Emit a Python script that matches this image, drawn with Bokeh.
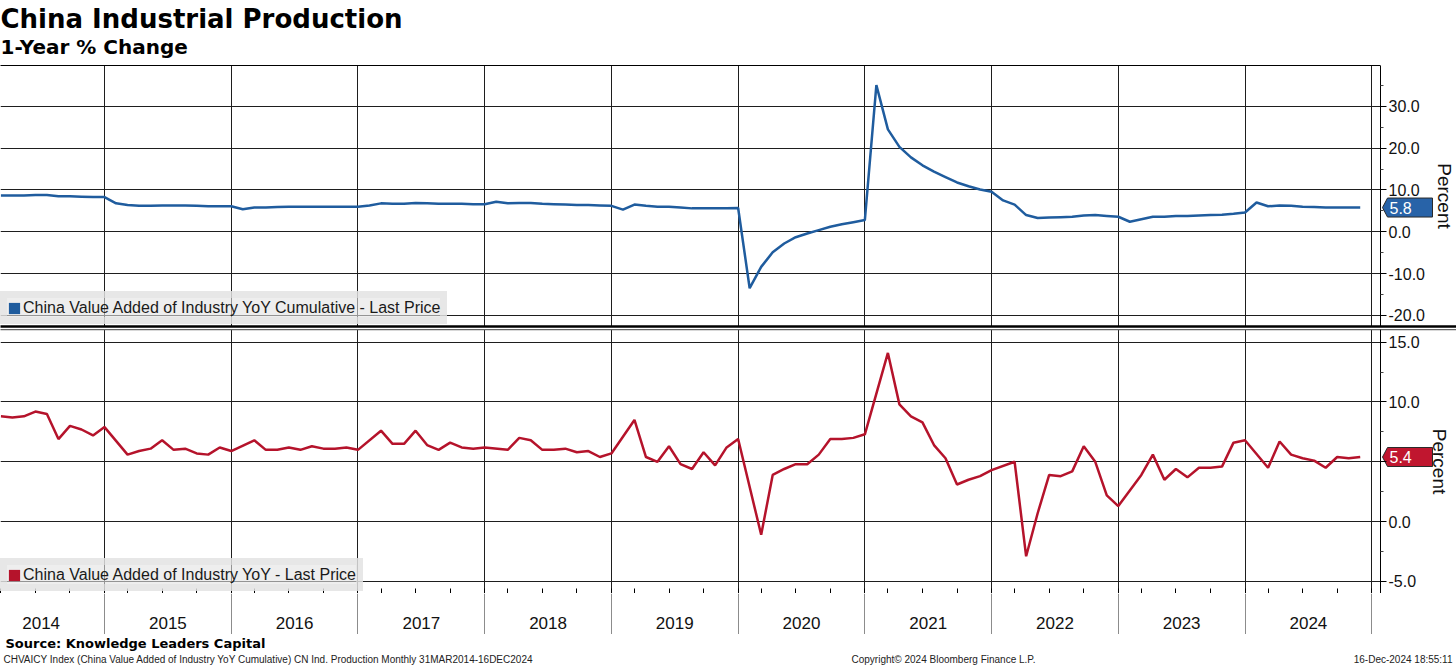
from bokeh.plotting import figure
from bokeh.models import (Range1d, FixedTicker, LinearAxis, Legend, LegendItem,
                          CustomJSTickFormatter)
from bokeh.layouts import column
from bokeh.embed import file_html
from bokeh.resources import INLINE
from bokeh.core.properties import value

# ---------------- data ----------------
# Observation slots: Bloomberg monthly series, Feb..Dec each year (Jan never published)
FIRST_PERIOD = "2014-03"
LAST_PERIOD = "2024-11"
YEARS = [2014, 2015, 2016, 2017, 2018, 2019, 2020, 2021, 2022, 2023, 2024]
MONTHS_IN_SERIES = [2, 3, 4, 5, 6, 7, 8, 9, 10, 11, 12]

# China Value Added of Industry YoY Cumulative (YTD), %
CUMULATIVE_YOY = [
    8.7, 8.7, 8.7, 8.8, 8.8, 8.5, 8.5, 8.4, 8.3, 8.3,            # 2014 Mar-Dec
    6.8, 6.4, 6.2, 6.2, 6.3, 6.3, 6.3, 6.2, 6.1, 6.1, 6.1,       # 2015 Feb-Dec
    5.4, 5.8, 5.8, 5.9, 6.0, 6.0, 6.0, 6.0, 6.0, 6.0, 6.0,       # 2016
    6.3, 6.8, 6.7, 6.7, 6.9, 6.8, 6.7, 6.7, 6.7, 6.6, 6.6,       # 2017
    7.2, 6.8, 6.9, 6.9, 6.7, 6.6, 6.5, 6.4, 6.4, 6.3, 6.2,       # 2018
    5.3, 6.5, 6.2, 6.0, 6.0, 5.8, 5.6, 5.6, 5.6, 5.6, 5.7,       # 2019
    -13.5, -8.4, -4.9, -2.8, -1.3, -0.4, 0.4, 1.2, 1.8, 2.3, 2.8,  # 2020
    35.1, 24.5, 20.3, 17.8, 15.9, 14.4, 13.1, 11.8, 10.9, 10.1, 9.6,  # 2021
    7.5, 6.5, 4.0, 3.3, 3.4, 3.5, 3.6, 3.9, 4.0, 3.8, 3.6,       # 2022
    2.4, 3.0, 3.6, 3.6, 3.8, 3.8, 3.9, 4.0, 4.1, 4.3, 4.6,       # 2023
    7.0, 6.1, 6.3, 6.2, 6.0, 5.9, 5.8, 5.8, 5.8, 5.8,            # 2024 Feb-Nov
]

# China Value Added of Industry YoY (single month), %; no Feb print (None)
MONTHLY_YOY = [
    8.8, 8.7, 8.8, 9.2, 9.0, 6.9, 8.0, 7.7, 7.2, 7.9,            # 2014 Mar-Dec
    None, 5.6, 5.9, 6.1, 6.8, 6.0, 6.1, 5.7, 5.6, 6.2, 5.9,      # 2015
    None, 6.8, 6.0, 6.0, 6.2, 6.0, 6.3, 6.1, 6.1, 6.2, 6.0,      # 2016
    None, 7.6, 6.5, 6.5, 7.6, 6.4, 6.0, 6.6, 6.2, 6.1, 6.2,      # 2017
    None, 6.0, 7.0, 6.8, 6.0, 6.0, 6.1, 5.8, 5.9, 5.4, 5.7,      # 2018
    None, 8.5, 5.4, 5.0, 6.3, 4.8, 4.4, 5.8, 4.7, 6.2, 6.9,      # 2019
    None, -1.1, 3.9, 4.4, 4.8, 4.8, 5.6, 6.9, 6.9, 7.0, 7.3,     # 2020
    None, 14.1, 9.8, 8.8, 8.3, 6.4, 5.3, 3.1, 3.5, 3.8, 4.3,     # 2021
    None, 5.0, -2.9, 0.7, 3.9, 3.8, 4.2, 6.3, 5.0, 2.2, 1.3,     # 2022
    None, 3.9, 5.6, 3.5, 4.4, 3.7, 4.5, 4.5, 4.6, 6.6, 6.8,      # 2023
    None, 4.5, 6.7, 5.6, 5.3, 5.1, 4.5, 5.4, 5.3, 5.4,           # 2024 Feb-Nov
]

TOP_TICKS = [-20, -10, 0, 10, 20, 30]
TOP_MINOR = [-15, -5, 5, 15, 25, 35]
BOT_TICKS = [-5, 0, 5, 10, 15]
BOT_MINOR = [-2.5, 2.5, 7.5, 12.5]

TITLE = "China Industrial Production"
SUBTITLE = "1-Year % Change"
SERIES1 = "China Value Added of Industry YoY Cumulative - Last Price"
SERIES2 = "China Value Added of Industry YoY - Last Price"
SOURCE = "Source: Knowledge Leaders Capital"
FOOT_LEFT = "CHVAICY Index (China Value Added of Industry YoY Cumulative) CN Ind. Production  Monthly 31MAR2014-16DEC2024"
FOOT_MID = "Copyright\u00a9 2024 Bloomberg Finance L.P."
FOOT_RIGHT = "16-Dec-2024 18:55:11"

# ---------------- derived positions ----------------
PERIODS = []
for y in YEARS:
    for m in MONTHS_IN_SERIES:
        p = f"{y}-{m:02d}"
        if FIRST_PERIOD <= p <= LAST_PERIOD:
            PERIODS.append(p)
X = list(range(len(PERIODS)))
red_x = [i for i, v in zip(X, MONTHLY_YOY) if v is not None]
red_y = [v for v in MONTHLY_YOY if v is not None]
DEC_IDX = [i for i, p in enumerate(PERIODS) if p.endswith("-12")]
BOUNDARIES = DEC_IDX + [DEC_IDX[-1] + len(MONTHS_IN_SERIES)]
YEAR_CENTERS = [b - len(MONTHS_IN_SERIES) / 2 for b in BOUNDARIES]
QUARTERS = [i for i, p in enumerate(PERIODS) if p[-2:] in ("03", "06", "09", "12")] + [BOUNDARIES[-1]]

# ---------------- style / geometry ----------------
BLUE = "#1f5c9e"
BLUE_TAG = "#2863a8"
RED = "#b5132b"
RED_TAG = "#c0162f"
GRID = "#1e1e1e"
LEG_BG = "#e2e2e2"
FONT = "Liberation Sans"
BFONT = "DejaVu Sans"
W = 1456          # full canvas width
AXIS_PX = 1380    # x pixel of the right value axis
X_START, X_END = -0.03, 119.76
XR_END = X_START + (X_END - X_START) * W / AXIS_PX
Y1 = (-22.66, 39.78)
Y2 = (-6.01, 16.06)
H1, H2 = 261, 264
NAN = float("nan")

x_range = Range1d(X_START, XR_END)


def base_panel(yr, fh, ticks, minor, hide):
    p = figure(title=None, frame_width=W, frame_height=fh, x_range=x_range,
               y_range=Range1d(*yr), y_axis_location="right", x_axis_location=None,
               output_backend="svg", toolbar_location=None,
               min_border_left=0, min_border_right=0, min_border_top=0,
               min_border_bottom=0, outline_line_color=None,
               background_fill_color="white", border_fill_color="white")
    ax = p.yaxis[0]
    ax.fixed_location = X_END
    ax.ticker = FixedTicker(ticks=ticks, minor_ticks=minor)
    code = "return tick.toFixed(1);" if hide is None else \
        "return (Math.abs(tick - %s) < 1e-9) ? '' : tick.toFixed(1);" % hide
    ax.formatter = CustomJSTickFormatter(code=code)
    ax.axis_line_color = "black"
    ax.axis_line_width = 1
    ax.major_tick_out = 6
    ax.major_tick_in = 0
    ax.minor_tick_out = 3
    ax.minor_tick_in = 0
    ax.major_tick_line_color = "black"
    ax.minor_tick_line_color = "#444444"
    ax.major_label_standoff = 2
    ax.major_label_text_font = FONT
    ax.major_label_text_font_size = "16px"
    ax.major_label_text_color = "#111111"
    ax.axis_label = "Percent"
    ax.axis_label_text_font = FONT
    ax.axis_label_text_font_size = "19px"
    ax.axis_label_text_font_style = "normal"
    ax.axis_label_text_color = "#111111"
    ax.axis_label_standoff = 6
    p.xgrid.ticker = FixedTicker(ticks=BOUNDARIES)
    p.ygrid.ticker = FixedTicker(ticks=ticks)
    for g in (p.xgrid[0], p.ygrid[0]):
        g.grid_line_color = GRID
        g.grid_line_width = 1
    # blank the area right of the value axis (keeps grid lines inside the plot area)
    p.quad(left=[X_END], right=[XR_END], bottom=[yr[0]], top=[yr[1]],
           fill_color="white", line_color=None)
    return p


def edge_axis(p, place, color, width, minor=None, bounded=False):
    ax = LinearAxis(ticker=FixedTicker(ticks=[], minor_ticks=minor or []),
                    axis_line_color=color, axis_line_width=width,
                    major_tick_out=0, major_tick_in=0,
                    minor_tick_out=0, minor_tick_in=(5 if minor else 0),
                    minor_tick_line_color="black",
                    major_label_standoff=0, major_label_text_font_size="0px")
    if bounded:
        ax.bounds = (X_START, X_END)
    p.add_layout(ax, place)


def add_legend(p, label, color):
    q = p.quad(left=[NAN], right=[NAN], top=[NAN], bottom=[NAN], fill_color=color, line_color=None)
    lg = Legend(items=[LegendItem(label=label, renderers=[q])], location=(0, 2),
                label_text_font=FONT, label_text_font_size="16px", label_text_color="#1a1a1a",
                glyph_width=14, glyph_height=14, label_height=19, label_standoff=2,
                padding=0, margin=0, background_fill_color=LEG_BG,
                background_fill_alpha=0.6, border_line_color=LEG_BG,
                border_line_alpha=0.6, border_line_width=7)
    p.add_layout(lg)


def add_tag(p, v, color, yr, fh):
    dx = (XR_END - X_START) / W
    dy = (yr[1] - yr[0]) / fh
    xs = [X_END + 2 * dx, X_END + 7 * dx, X_END + 52 * dx, X_END + 52 * dx, X_END + 7 * dx]
    ys = [v, v + 9.5 * dy, v + 9.5 * dy, v - 9.5 * dy, v - 9.5 * dy]
    p.patch(xs, ys, fill_color=color, line_color="#2a2a2a", line_width=1)
    p.text(x=[X_END + 9 * dx], y=[v], text=[f"{v:.1f}"], text_baseline="middle",
           text_align="left", text_color="white", text_font=value(FONT),
           text_font_size=value("16px"))


# ---------------- header ----------------
header = figure(title=None, frame_width=W, frame_height=65, x_range=Range1d(0, W),
                y_range=Range1d(65, 0), x_axis_location=None, y_axis_location=None,
                output_backend="svg", toolbar_location=None, min_border=0,
                outline_line_color=None)
header.grid.visible = False
header.text(x=[0], y=[18.5], text=[TITLE], text_font=value(BFONT), text_font_size=value("26px"),
            text_font_style="bold", text_baseline="middle", text_color="black")
header.text(x=[0], y=[46], text=[SUBTITLE], text_font=value(BFONT), text_font_size=value("20px"),
            text_font_style="bold", text_baseline="middle", text_color="black")

# ---------------- top panel ----------------
p1 = base_panel(Y1, H1, TOP_TICKS, TOP_MINOR, None)
p1.min_border_bottom = 3
edge_axis(p1, "above", "black", 1, bounded=True)
edge_axis(p1, "below", "black", 2.5)
p1.line(X, CUMULATIVE_YOY, line_color=BLUE, line_width=2.5)
add_legend(p1, SERIES1, BLUE)
add_tag(p1, CUMULATIVE_YOY[-1], BLUE_TAG, Y1, H1)

# ---------------- bottom panel ----------------
p2 = base_panel(Y2, H2, BOT_TICKS, BOT_MINOR, 5)
edge_axis(p2, "above", "#666666", 1.5)
edge_axis(p2, "below", "black", 1, minor=QUARTERS, bounded=True)
p2.line(red_x, red_y, line_color=RED, line_width=2.5)
add_legend(p2, SERIES2, RED)
add_tag(p2, red_y[-1], RED_TAG, Y2, H2)

# ---------------- year strip ----------------
strip = figure(title=None, frame_width=W, frame_height=41, x_range=x_range, y_range=Range1d(0, 1),
               x_axis_location=None, y_axis_location=None, output_backend="svg",
               toolbar_location=None, min_border=0, outline_line_color=None)
strip.ygrid.visible = False
strip.xgrid.ticker = FixedTicker(ticks=BOUNDARIES)
strip.xgrid.grid_line_color = "#8c8c8c"
strip.xgrid.grid_line_width = 1
strip.text(x=YEAR_CENTERS, y=[0.28] * len(YEARS), text=[str(y) for y in YEARS],
           text_font=value(FONT), text_font_size=value("17px"), text_align="center",
           text_baseline="middle", text_color="#111111")

# ---------------- footer ----------------
footer = figure(title=None, frame_width=W, frame_height=32, x_range=Range1d(0, W),
                y_range=Range1d(32, 0), x_axis_location=None, y_axis_location=None,
                output_backend="svg", toolbar_location=None, min_border=0,
                outline_line_color=None)
footer.grid.visible = False
footer.text(x=[5], y=[9], text=[SOURCE], text_font=value(BFONT), text_font_size=value("13px"),
            text_font_style="bold", text_baseline="middle", text_color="black")
footer.text(x=[3], y=[25], text=[FOOT_LEFT], text_font=value(FONT), text_font_size=value("10px"),
            text_baseline="middle", text_color="#222222")
footer.text(x=[943], y=[25], text=[FOOT_MID], text_font=value(FONT), text_font_size=value("10px"),
            text_align="center", text_baseline="middle", text_color="#222222")
footer.text(x=[1452], y=[25], text=[FOOT_RIGHT], text_font=value(FONT), text_font_size=value("10px"),
            text_align="right", text_baseline="middle", text_color="#222222")

layout = column(header, p1, p2, strip, footer, spacing=0)
open("out.html", "w").write(file_html(layout, INLINE))
